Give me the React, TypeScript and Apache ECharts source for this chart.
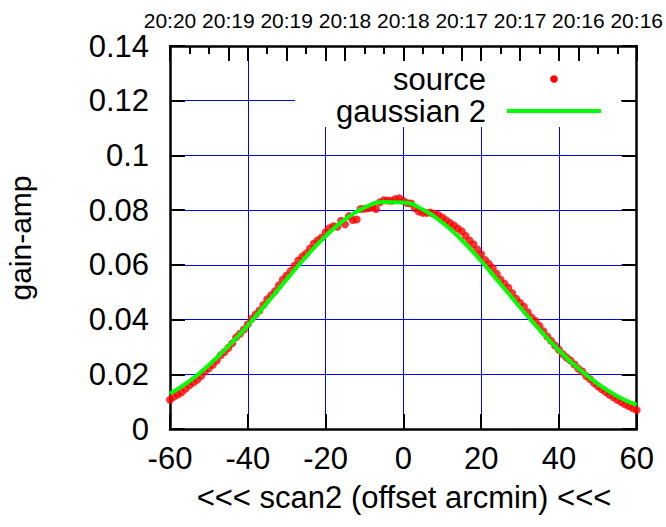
import React, { useEffect, useRef } from "react";
import * as echarts from "echarts";

// ---- data ----
const topTickLabels = ["20:20", "20:19", "20:19", "20:18", "20:18", "20:17", "20:17", "20:16", "20:16"];

const fitX = [-60, -55, -50, -45, -40, -35, -30, -25, -20, -15, -10, -5, 0, 5, 10, 15, 20, 25, 30, 35, 40, 45, 50, 55, 60];
const fitY = [0.0129, 0.0175, 0.0234, 0.0302, 0.0379, 0.0462, 0.0547, 0.063, 0.0705, 0.0766, 0.0809, 0.083, 0.0828, 0.0802, 0.0755, 0.0691, 0.0614, 0.053, 0.0445, 0.0363, 0.0288, 0.0221, 0.0165, 0.012, 0.0088];

const srcX = [-60, -58, -56, -54, -52, -50, -48, -46, -44, -42, -40, -38, -36, -34, -32, -30, -28, -26, -24, -22, -20, -18, -16, -14, -12, -10, -8, -6, -4, -2, 0, 2, 4, 6, 8, 10, 12, 14, 16, 18, 20, 22, 24, 26, 28, 30, 32, 34, 36, 38, 40, 42, 44, 46, 48, 50, 52, 54, 56, 58, 60,
  -59, -57, -55, -53, -51, -49, -47, -45, -43, -41, -39, -37, -35, -33, -31, -29, -27, -25, -23, -21, -19, -17, -15, -13, -11, -9, -7, -5, -3, -1, 1, 3, 5, 7, 9, 11, 13, 15, 17, 19, 21, 23, 25, 27, 29, 31, 33, 35, 37, 39, 41, 43, 45, 47, 49, 51, 53, 55, 57, 59];
const srcY = [0.0107, 0.0126, 0.0147, 0.017, 0.0194, 0.0222, 0.025, 0.0281, 0.0313, 0.0348, 0.0383, 0.0418, 0.0453, 0.0489, 0.0525, 0.0561, 0.0597, 0.063, 0.066, 0.069, 0.0719, 0.0741, 0.0761, 0.0778, 0.0766, 0.0805, 0.081, 0.0829, 0.0835, 0.0841, 0.0834, 0.0824, 0.0795, 0.079, 0.0787, 0.0773, 0.0753, 0.0733, 0.0706, 0.0675, 0.0639, 0.0603, 0.0567, 0.0531, 0.0496, 0.0461, 0.0427, 0.0395, 0.0357, 0.0322, 0.029, 0.0261, 0.0236, 0.021, 0.0182, 0.0156, 0.0135, 0.0116, 0.0099, 0.0083, 0.0069,
  0.0118, 0.0134, 0.016, 0.018, 0.021, 0.0235, 0.0269, 0.0296, 0.0335, 0.0364, 0.0403, 0.0433, 0.0474, 0.0504, 0.0546, 0.0577, 0.0616, 0.0642, 0.0678, 0.07, 0.0734, 0.0739, 0.0748, 0.0764, 0.0804, 0.0807, 0.0804, 0.0836, 0.0834, 0.0843, 0.0826, 0.0807, 0.079, 0.0791, 0.0782, 0.0763, 0.0744, 0.0723, 0.0689, 0.0656, 0.0618, 0.0588, 0.0546, 0.0516, 0.0476, 0.0447, 0.0407, 0.0377, 0.0338, 0.0305, 0.0273, 0.025, 0.022, 0.0194, 0.0168, 0.0145, 0.0125, 0.0107, 0.009, 0.0076];

const FONT = "Liberation Sans";
const BLACK = "#000000";
const BLUE = "#0000ff";

const off = () => ({ show: false });
const frameLine = () => ({ show: true, onZero: false, lineStyle: { color: BLACK, width: 2.5 } });
const noLine = () => ({ show: false, onZero: false });
const majorTick = () => ({ show: true, inside: true, length: 15, lineStyle: { color: BLACK, width: 2 } });
const gridLine = () => ({ show: true, lineStyle: { color: BLUE, width: 1, type: "solid" as const } });

export default function App() {
  const ref = useRef<HTMLDivElement>(null);
  useEffect(() => {
    const chart = echarts.init(ref.current!, null, { renderer: "svg" });
    chart.setOption({
      animation: false,
      backgroundColor: "#ffffff",
      grid: { left: 170, right: 27, top: 46, bottom: 98, containLabel: false },
      xAxis: [
        {
          type: "value", position: "bottom", min: -60, max: 60, interval: 20, z: 3,
          axisLine: frameLine(), axisTick: majorTick(), minorTick: off(), splitLine: off(), minorSplitLine: off(),
          axisLabel: { fontFamily: FONT, fontSize: 31, color: BLACK, margin: 14 },
        },
        {
          type: "value", position: "top", min: -60, max: 60, interval: 15, z: 3,
          axisLine: frameLine(), splitLine: off(), minorSplitLine: off(),
          axisTick: majorTick(),
          minorTick: { show: true, splitNumber: 3, length: 8, lineStyle: { color: BLACK, width: 2 } },
          axisLabel: {
            fontFamily: FONT, fontSize: 21, color: BLACK, margin: 15,
            formatter: (v: number) => topTickLabels[Math.round((v + 60) / 15)],
          },
        },
        {
          type: "value", position: "top", min: -60, max: 60, interval: 20, z: 3,
          axisLine: noLine(), axisTick: majorTick(), axisLabel: off(), minorTick: off(), splitLine: off(), minorSplitLine: off(),
        },
        {
          type: "value", position: "bottom", min: -60, max: 60, interval: 20, z: 0,
          axisLine: noLine(), axisTick: off(), axisLabel: off(), minorTick: off(), minorSplitLine: off(),
          splitLine: gridLine(),
        },
      ],
      yAxis: [
        {
          type: "value", position: "left", min: 0, max: 0.14, interval: 0.02, z: 3,
          axisLine: frameLine(), axisTick: majorTick(), minorTick: off(), splitLine: off(), minorSplitLine: off(),
          axisLabel: { fontFamily: FONT, fontSize: 31, color: BLACK, margin: 21, formatter: (v: number) => String(Math.round(v * 100) / 100) },
        },
        {
          type: "value", position: "right", min: 0, max: 0.14, interval: 0.02, z: 3,
          axisLine: frameLine(), axisTick: majorTick(), axisLabel: off(), minorTick: off(), splitLine: off(), minorSplitLine: off(),
        },
        {
          type: "value", position: "left", min: 0, max: 0.14, interval: 0.02, z: 0,
          axisLine: noLine(), axisTick: off(), axisLabel: off(), minorTick: off(), minorSplitLine: off(),
          splitLine: gridLine(),
        },
      ],
      series: [
        {
          name: "source", type: "scatter", xAxisIndex: 0, yAxisIndex: 0, z: 4,
          symbol: "circle", symbolSize: 8,
          itemStyle: { color: "#ff0000" },
          data: srcX.map((x, i) => [x, srcY[i]]),
        },
        {
          name: "gaussian 2", type: "line", xAxisIndex: 0, yAxisIndex: 0, z: 5,
          smooth: true, showSymbol: false, symbol: "none",
          lineStyle: { color: "#00ff00", width: 4 },
          data: fitX.map((x, i) => [x, fitY[i]]),
        },
      ],
      graphic: [
        { type: "rect", z: 1, shape: { x: 295, y: 47, width: 326, height: 80 }, style: { fill: "#ffffff" } },
        { type: "text", z: 10, x: 486, y: 79, style: { text: "source", font: `31px "${FONT}"`, fill: BLACK, textAlign: "right", textVerticalAlign: "middle" } },
        { type: "circle", z: 10, shape: { cx: 554, cy: 79, r: 3.8 }, style: { fill: "#ff0000" } },
        { type: "text", z: 10, x: 486, y: 111, style: { text: "gaussian 2", font: `31px "${FONT}"`, fill: BLACK, textAlign: "right", textVerticalAlign: "middle" } },
        { type: "line", z: 10, shape: { x1: 507, y1: 111, x2: 601, y2: 111 }, style: { stroke: "#00ff00", lineWidth: 4 } },
        { type: "text", z: 10, x: 20, y: 238, rotation: Math.PI / 2, style: { text: "gain-amp", font: `30px "${FONT}"`, fill: BLACK, textAlign: "center", textVerticalAlign: "middle" } },
        { type: "text", z: 10, x: 404, y: 497, style: { text: "<<< scan2 (offset arcmin) <<<", font: `31px "${FONT}"`, fill: BLACK, textAlign: "center", textVerticalAlign: "middle" } },
      ],
    });
    return () => chart.dispose();
  }, []);
  return <div ref={ref} style={{ position: "absolute", left: 0, top: 0, width: 666, height: 527 }} />;
}
